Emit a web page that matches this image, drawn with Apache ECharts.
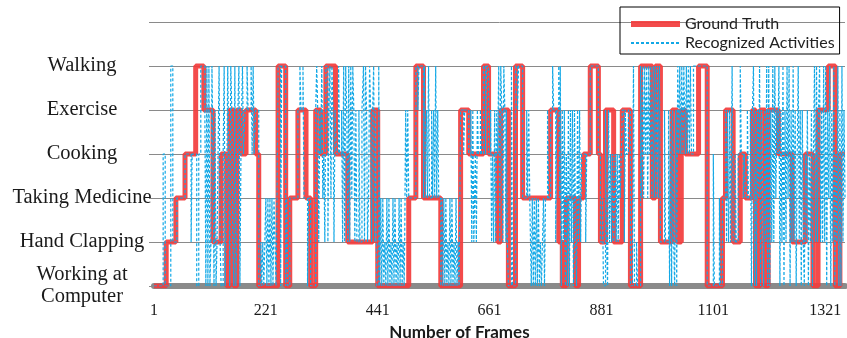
<!DOCTYPE html>
<html>
<head>
<meta charset="utf-8">
<script src="https://cdn.jsdelivr.net/npm/echarts@6/dist/echarts.min.js"></script>
<style>
  html, body { margin: 0; padding: 0; background: #fff; }
  #chart { width: 847px; height: 338px; }
</style>
</head>
<body>
<div id="chart"></div>
<script>
// activity levels, bottom to top
const activities = ['Working at\nComputer', 'Hand Clapping', 'Taking Medicine', 'Cooking', 'Exercise', 'Walking']
const xTicks = [1, 221, 441, 661, 881, 1101, 1321]
const lastFrame = 1360

// [frame where the activity starts, activity index]
const groundTruth = [
  [1, 0], [25, 1], [44, 2], [62, 3], [83, 5], [99, 4], [117, 1], [133, 3], [144, 0], [150, 4],
  [158, 0], [164, 4], [172, 3], [182, 4], [201, 3], [207, 0], [245, 5], [260, 0], [268, 2], [284, 4],
  [300, 2], [309, 0], [319, 4], [329, 3], [339, 5], [358, 3], [382, 1], [431, 4], [441, 0], [502, 2],
  [516, 5], [531, 2], [565, 0], [604, 4], [620, 3], [649, 5], [659, 3], [677, 1], [683, 4], [698, 0],
  [712, 5], [726, 2], [781, 4], [797, 1], [804, 0], [812, 2], [830, 0], [836, 2], [846, 3], [859, 5],
  [875, 3], [879, 1], [889, 4], [905, 1], [922, 4], [938, 0], [958, 5], [981, 2], [987, 5], [997, 1],
  [1020, 4], [1030, 1], [1038, 4], [1046, 3], [1072, 5], [1089, 0], [1119, 2], [1125, 4], [1140, 1], [1154, 3],
  [1164, 2], [1178, 4], [1184, 0], [1193, 4], [1203, 0], [1209, 4], [1229, 3], [1256, 1], [1282, 3], [1297, 0],
  [1307, 4], [1327, 5], [1341, 0], [1350, 3], [1360, 3],
]

const recognized = [
  [1, 0], [19, 3], [23, 0], [34, 5], [38, 1], [46, 2], [62, 3], [74, 1], [76, 3], [85, 0],
  [89, 3], [93, 5], [101, 4], [103, 0], [105, 5], [107, 0], [109, 5], [111, 0], [113, 1], [115, 5],
  [117, 3], [119, 0], [121, 4], [123, 0], [125, 1], [127, 3], [129, 5], [131, 1], [133, 0], [137, 3],
  [139, 5], [141, 0], [144, 2], [146, 5], [148, 3], [150, 0], [152, 5], [154, 4], [156, 1], [158, 0],
  [160, 5], [162, 0], [164, 1], [166, 4], [168, 5], [170, 0], [172, 3], [175, 5], [177, 3], [180, 4],
  [184, 5], [186, 4], [192, 5], [194, 3], [196, 5], [198, 3], [201, 4], [207, 0], [211, 1], [213, 0],
  [215, 1], [217, 0], [219, 1], [221, 2], [223, 0], [225, 2], [227, 0], [229, 2], [231, 0], [233, 2],
  [235, 0], [237, 2], [239, 1], [241, 0], [243, 2], [245, 5], [250, 0], [252, 5], [260, 0], [262, 2],
  [264, 0], [268, 2], [284, 4], [288, 5], [290, 4], [294, 5], [296, 2], [303, 0], [305, 2], [309, 0],
  [319, 4], [321, 5], [323, 4], [325, 1], [327, 4], [329, 3], [331, 5], [333, 2], [335, 3], [337, 1],
  [339, 5], [343, 1], [345, 4], [347, 5], [349, 2], [351, 5], [353, 4], [355, 1], [357, 4], [360, 3],
  [364, 5], [366, 3], [370, 4], [372, 1], [374, 5], [376, 1], [378, 5], [380, 4], [382, 1], [384, 5],
  [386, 1], [388, 5], [390, 2], [392, 5], [394, 4], [396, 1], [398, 4], [400, 1], [404, 4], [406, 1],
  [410, 4], [413, 5], [415, 1], [417, 5], [419, 4], [421, 1], [423, 2], [425, 5], [427, 4], [429, 1],
  [431, 4], [433, 5], [435, 1], [437, 4], [439, 0], [443, 5], [445, 0], [447, 2], [449, 0], [451, 2],
  [453, 0], [455, 1], [457, 0], [459, 2], [461, 0], [463, 2], [465, 0], [467, 1], [469, 0], [471, 2],
  [473, 0], [475, 2], [477, 0], [479, 1], [481, 0], [483, 2], [485, 0], [487, 2], [489, 0], [491, 1],
  [493, 0], [494, 1], [496, 4], [498, 2], [500, 4], [502, 2], [516, 5], [520, 4], [522, 5], [531, 2],
  [533, 5], [535, 2], [537, 4], [539, 2], [541, 5], [543, 2], [547, 4], [549, 2], [551, 4], [553, 2],
  [555, 5], [557, 2], [559, 4], [561, 2], [565, 0], [567, 2], [569, 0], [571, 2], [573, 0], [575, 2],
  [577, 0], [579, 1], [581, 0], [583, 2], [585, 0], [587, 2], [589, 0], [591, 1], [593, 0], [595, 2],
  [597, 0], [599, 1], [601, 0], [604, 4], [610, 3], [612, 4], [620, 3], [624, 4], [626, 1], [628, 4],
  [630, 1], [633, 3], [635, 1], [637, 4], [639, 3], [643, 4], [645, 3], [649, 5], [653, 3], [655, 5],
  [659, 3], [663, 4], [665, 1], [667, 3], [669, 1], [671, 4], [673, 1], [675, 4], [677, 3], [679, 5],
  [681, 1], [683, 5], [685, 4], [687, 1], [689, 5], [691, 4], [693, 1], [694, 4], [696, 1], [698, 0],
  [704, 5], [706, 0], [712, 5], [716, 4], [718, 5], [726, 2], [734, 4], [736, 2], [738, 4], [740, 2],
  [743, 0], [745, 2], [747, 0], [749, 2], [751, 0], [753, 2], [755, 0], [757, 2], [759, 0], [761, 1],
  [763, 0], [765, 1], [767, 2], [769, 0], [771, 2], [775, 4], [777, 2], [781, 4], [785, 5], [787, 4],
  [791, 1], [793, 4], [797, 5], [799, 2], [800, 5], [802, 0], [804, 4], [806, 1], [808, 4], [810, 0],
  [812, 3], [814, 0], [816, 4], [818, 0], [820, 4], [822, 1], [824, 4], [826, 0], [828, 4], [830, 1],
  [832, 0], [834, 4], [836, 1], [838, 4], [840, 1], [842, 3], [850, 1], [852, 3], [859, 5], [875, 3],
  [879, 1], [883, 2], [885, 0], [889, 4], [891, 1], [893, 0], [895, 4], [897, 1], [899, 3], [901, 1],
  [903, 3], [905, 1], [908, 3], [910, 1], [912, 3], [914, 1], [916, 3], [918, 2], [920, 3], [922, 4],
  [926, 1], [928, 4], [930, 3], [934, 4], [938, 0], [942, 1], [944, 5], [946, 0], [950, 1], [952, 0],
  [958, 5], [960, 2], [962, 5], [964, 2], [966, 5], [968, 3], [970, 5], [972, 2], [974, 5], [976, 3],
  [978, 5], [980, 2], [983, 5], [985, 2], [987, 5], [989, 2], [991, 5], [993, 2], [995, 5], [997, 1],
  [1005, 4], [1007, 1], [1013, 4], [1015, 0], [1017, 4], [1019, 0], [1021, 4], [1023, 1], [1025, 0], [1027, 4],
  [1029, 0], [1031, 5], [1033, 3], [1035, 5], [1037, 3], [1039, 5], [1041, 3], [1043, 5], [1046, 3], [1048, 5],
  [1050, 3], [1052, 5], [1054, 3], [1056, 5], [1058, 3], [1062, 5], [1089, 0], [1101, 3], [1103, 0], [1113, 2],
  [1115, 0], [1119, 2], [1125, 4], [1127, 1], [1129, 4], [1131, 1], [1133, 4], [1135, 1], [1138, 5], [1140, 1],
  [1144, 3], [1146, 1], [1150, 3], [1154, 5], [1156, 3], [1160, 2], [1162, 3], [1164, 2], [1168, 4], [1170, 2],
  [1174, 4], [1176, 0], [1178, 4], [1180, 5], [1182, 0], [1184, 4], [1186, 0], [1188, 4], [1190, 2], [1192, 5],
  [1194, 0], [1196, 4], [1198, 2], [1200, 0], [1202, 4], [1204, 1], [1206, 5], [1208, 0], [1210, 5], [1212, 0],
  [1214, 4], [1216, 1], [1218, 5], [1220, 1], [1222, 5], [1224, 2], [1226, 4], [1228, 3], [1230, 5], [1232, 0],
  [1234, 4], [1236, 1], [1238, 5], [1240, 0], [1242, 4], [1244, 1], [1246, 5], [1248, 2], [1250, 5], [1252, 0],
  [1254, 4], [1256, 1], [1258, 5], [1260, 1], [1262, 4], [1264, 0], [1266, 3], [1268, 5], [1270, 1], [1272, 4],
  [1274, 0], [1276, 4], [1278, 1], [1280, 0], [1282, 3], [1284, 1], [1286, 4], [1288, 0], [1290, 3], [1292, 1],
  [1294, 4], [1296, 0], [1298, 3], [1300, 5], [1302, 1], [1304, 5], [1306, 1], [1308, 4], [1310, 5], [1312, 1],
  [1314, 4], [1316, 1], [1318, 5], [1320, 1], [1322, 5], [1324, 0], [1326, 4], [1328, 2], [1330, 5], [1332, 0],
  [1334, 4], [1336, 1], [1338, 5], [1340, 0], [1342, 3], [1344, 1], [1346, 5], [1348, 0], [1350, 4], [1352, 0],
  [1354, 5], [1356, 1], [1358, 4], [1360, 2],
]

const ec = echarts.init(document.getElementById('chart'))

const options = {
  animation: false,
  grid: {
    left: 154,
    right: 2,
    top: 22,
    bottom: 52,
    outerBoundsMode: 'none',
  },
  legend: {
    orient: 'vertical',
    left: 620,
    top: 7,
    padding: [9, 5, 3, 8],
    itemGap: 3,
    itemWidth: 49,
    itemHeight: 14,
    borderColor: '#000',
    borderWidth: 1,
    // hide the marker circle, keep only the line sample
    itemStyle: { opacity: 0 },
    textStyle: {
      fontFamily: 'Lato',
      fontSize: 16,
      color: '#222',
    },
    data: [
      { name: 'Ground Truth', lineStyle: { width: 6 } },
      { name: 'Recognized Activities' },
    ],
  },
  xAxis: {
    type: 'value',
    min: 1,
    max: lastFrame,
    offset: 1,
    axisLine: {
      show: true,
      lineStyle: { color: '#8a8a8a', width: 6 },
    },
    axisTick: { show: false },
    splitLine: { show: false },
    axisLabel: {
      customValues: xTicks,
      margin: 16,
      fontFamily: 'Liberation Serif',
      fontSize: 16,
      color: '#1a1a1a',
      formatter(val) {
        return String(val)
      },
    },
    name: 'Number of Frames',
    nameLocation: 'middle',
    nameGap: 30,
    nameTextStyle: {
      fontFamily: 'Lato',
      fontWeight: 'bold',
      fontSize: 17,
      color: '#1a1a1a',
      padding: [0, 80, 0, 0],
    },
  },
  yAxis: {
    type: 'value',
    min: 0,
    max: 6,
    interval: 1,
    axisLine: { show: false },
    axisTick: {
      show: true,
      length: 5,
      lineStyle: { color: '#8a8a8a' },
    },
    splitLine: {
      lineStyle: { color: '#8a8a8a', width: 1 },
    },
    axisLabel: {
      align: 'center',
      margin: 72,
      fontFamily: 'Liberation Serif',
      fontSize: 20.5,
      lineHeight: 22,
      color: '#1a1a1a',
      formatter(val) {
        return activities[val] || ''
      },
    },
  },
  series: [
    {
      name: 'Ground Truth',
      type: 'line',
      step: 'end',
      data: groundTruth,
      symbol: 'none',
      z: 2,
      lineStyle: {
        color: '#f23c3c',
        width: 5,
        opacity: 0.92,
      },
      itemStyle: { color: '#f23c3c' },
    },
    {
      name: 'Recognized Activities',
      type: 'line',
      step: 'end',
      data: recognized,
      symbol: 'none',
      z: 3,
      lineStyle: {
        color: '#12a8e6',
        width: 1.2,
        type: [3, 2],
      },
      itemStyle: { color: '#12a8e6' },
    },
  ],
}
ec.setOption(options)
</script>
</body>
</html>
